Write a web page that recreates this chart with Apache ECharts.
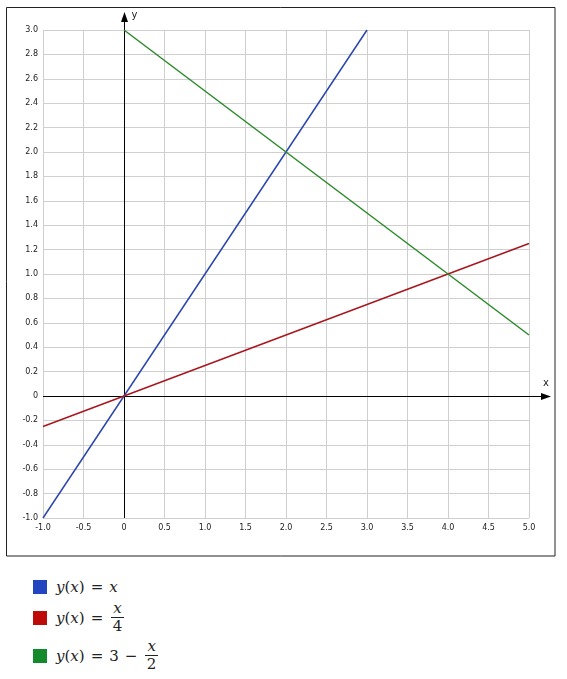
<!DOCTYPE html>
<html>
<head>
<meta charset="utf-8">
<script src="https://cdn.jsdelivr.net/npm/echarts@6/dist/echarts.min.js"></script>
<style>
  body { margin: 0; background: #fff; }
  #chart { position: absolute; left: 0; top: 0; width: 567px; height: 565px; }
  .legend { position: absolute; left: 0; top: 565px; width: 567px; height: 114px;
    font-family: "DejaVu Serif", "Liberation Serif", serif; font-size: 15px; color: #222; }
  .item { position: absolute; left: 33px; display: flex; align-items: center; white-space: nowrap; }
  .sw { width: 14px; height: 14px; margin-right: 9px; }
  .m { font-style: italic; }
  .frac { display: inline-flex; flex-direction: column; align-items: center; vertical-align: middle; margin: 0 2px; line-height: 17px; }
  .frac .num { border-bottom: 1px solid #222; padding: 0 2px; }
  .op { margin: 0 6px; }
</style>
</head>
<body>
<div id="chart"></div>
<div class="legend">
  <div class="item" style="top:13px"><div class="sw" style="background:#2345c0"></div>
    <span class="m">y</span>(<span class="m">x</span>)<span class="op">=</span><span class="m">x</span></div>
  <div class="item" style="top:35px"><div class="sw" style="background:#bf0a0a"></div>
    <span class="m">y</span>(<span class="m">x</span>)<span class="op">=</span><span class="frac"><span class="num m">x</span><span>4</span></span></div>
  <div class="item" style="top:73px"><div class="sw" style="background:#12892a"></div>
    <span class="m">y</span>(<span class="m">x</span>)<span class="op">=</span>3<span class="op">−</span><span class="frac"><span class="num m">x</span><span>2</span></span></div>
</div>
<script>
  var lineNames = ['y(x) = x', 'y(x) = x/4', 'y(x) = 3 - x/2'];
  var lineColors = ['#2a46ad', '#a8161e', '#2a8a2a'];
  var blueData = [[-1, -1], [3, 3]];
  var redData = [[-1, -0.25], [5, 1.25]];
  var greenData = [[0, 3], [5, 0.5]];
  var xRange = [-1, 5];
  var yRange = [-1, 3];

  var chart = echarts.init(document.getElementById('chart'));

  function tickText(v) {
    return Math.abs(v) < 1e-9 ? '0' : v.toFixed(1);
  }

  var labelStyle = { fontFamily: 'DejaVu Sans', fontSize: 8, color: '#222' };

  chart.setOption({
    animation: false,
    grid: { left: 43, top: 30, width: 486, height: 488 },
    xAxis: {
      type: 'value', min: xRange[0], max: xRange[1], interval: 0.5,
      axisLine: { show: false }, axisTick: { show: false },
      axisLabel: Object.assign({ margin: 6, formatter: tickText }, labelStyle),
      splitLine: { lineStyle: { color: '#cfcfcf', width: 1 } }
    },
    yAxis: {
      type: 'value', min: yRange[0], max: yRange[1], interval: 0.2,
      axisLine: { show: false }, axisTick: { show: false },
      axisLabel: Object.assign({ margin: 5, formatter: tickText }, labelStyle),
      splitLine: { lineStyle: { color: '#cfcfcf', width: 1 } }
    },
    series: [blueData, redData, greenData].map(function (d, i) {
      return {
        name: lineNames[i], type: 'line', data: d, showSymbol: false, z: 5,
        lineStyle: { color: lineColors[i], width: 1.5 }
      };
    })
  });

  // axis lines through the origin, with arrows
  var o = chart.convertToPixel({ gridIndex: 0 }, [0, 0]);
  var bl = chart.convertToPixel({ gridIndex: 0 }, [xRange[0], yRange[0]]);
  var tr = chart.convertToPixel({ gridIndex: 0 }, [xRange[1], yRange[1]]);
  var ox = Math.round(o[0]) + 0.5, oy = Math.round(o[1]) + 0.5;
  var xEnd = tr[0] + 22, yTop = tr[1] - 18;

  chart.setOption({
    graphic: [
      { type: 'rect', shape: { x: 6.5, y: 7.5, width: 548.5, height: 548.5 },
        style: { fill: 'none', stroke: '#222', lineWidth: 1 }, silent: true },
      { type: 'line', shape: { x1: bl[0], y1: oy, x2: xEnd - 8, y2: oy },
        style: { stroke: '#000', lineWidth: 1 }, z: 4 },
      { type: 'polygon', shape: { points: [[xEnd, oy], [xEnd - 10, oy - 3.5], [xEnd - 10, oy + 3.5]] },
        style: { fill: '#000' }, z: 4 },
      { type: 'line', shape: { x1: ox, y1: bl[1], x2: ox, y2: yTop + 8 },
        style: { stroke: '#000', lineWidth: 1 }, z: 4 },
      { type: 'polygon', shape: { points: [[ox, yTop], [ox - 3.5, yTop + 10], [ox + 3.5, yTop + 10]] },
        style: { fill: '#000' }, z: 4 },
      { type: 'text', x: ox + 7, y: yTop - 2,
        style: { text: 'y', fontFamily: 'DejaVu Sans', fontSize: 10, fill: '#222' } },
      { type: 'text', x: xEnd - 8, y: oy - 18,
        style: { text: 'x', fontFamily: 'DejaVu Sans', fontSize: 10, fill: '#222' } }
    ]
  });
</script>
</body>
</html>
